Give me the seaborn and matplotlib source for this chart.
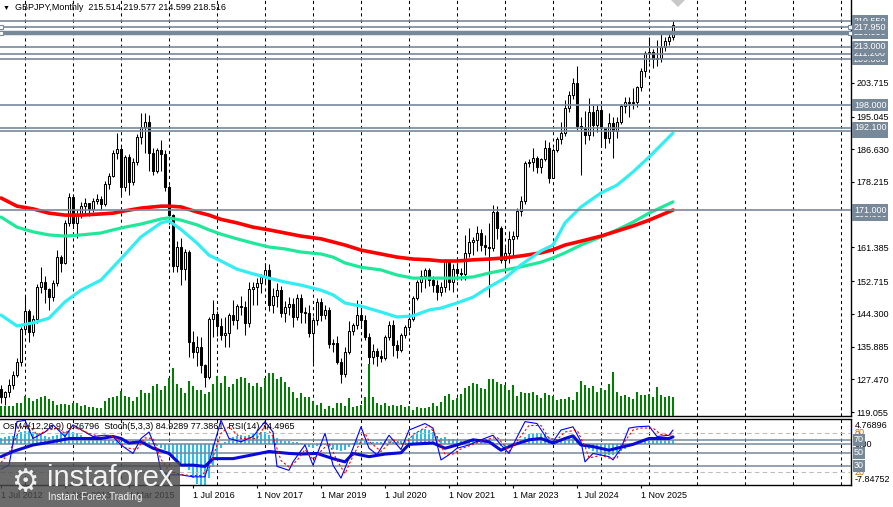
import matplotlib
matplotlib.use("Agg")
import matplotlib.pyplot as plt
from matplotlib.patches import Rectangle, Polygon
import numpy as np
import seaborn as sns

sns.set_theme(style="white")
plt.rcParams['font.family'] = ['Liberation Sans', 'DejaVu Sans']
plt.rcParams['text.color'] = 'black'
plt.rcParams['xtick.color'] = 'black'
plt.rcParams['ytick.color'] = 'black'

# GBPJPY monthly candles, bar 0 = Jul 2012 ... bar 168 = Jul 2026
first_open = 125.0
closes = [
    123.0, 124.2, 126.0, 128.6, 132.0, 140.4, 145.0, 139.6, 143.0, 151.2,
    152.5, 150.8, 148.6, 152.2, 159.0, 157.4, 167.7, 174.4, 167.7, 170.0,
    172.0, 172.8, 171.3, 173.3, 173.8, 172.5, 177.7, 179.7, 185.7, 186.8,
    177.0, 184.6, 178.2, 183.4, 189.8, 192.3, 193.6, 185.7, 181.0, 186.4,
    185.3, 177.0, 169.7, 156.6, 161.5, 155.9, 160.3, 137.0, 134.5, 135.8,
    131.2, 128.0, 143.0, 144.3, 141.2, 139.0, 139.4, 144.0, 142.7, 146.3,
    146.0, 142.0, 150.7, 151.2, 152.2, 153.8, 155.6, 146.6, 149.0, 150.4,
    144.5, 146.2, 146.8, 143.5, 148.3, 144.8, 144.5, 139.4, 142.7, 147.4,
    144.0, 145.3, 136.6, 136.9, 132.0, 128.8, 134.5, 140.0, 141.4, 144.0,
    142.7, 138.4, 133.2, 134.8, 133.5, 133.0, 138.4, 141.4, 136.3, 135.0,
    138.9, 141.0, 143.0, 148.4, 152.5, 154.0, 155.6, 153.0, 151.7, 150.0,
    151.2, 157.8, 152.5, 155.8, 154.8, 154.5, 160.0, 162.8, 163.3, 165.0,
    162.0, 161.5, 161.2, 170.5, 166.4, 158.2, 160.0, 163.6, 164.3, 170.8,
    173.3, 183.2, 183.3, 184.3, 182.0, 184.1, 186.9, 179.2, 186.4, 189.3,
    190.8, 197.2, 200.6, 203.7, 192.6, 192.1, 190.4, 196.2, 192.9, 196.7,
    192.1, 189.5, 193.4, 191.2, 193.6, 197.7, 198.8, 198.5, 198.9, 202.6,
    206.7, 211.4, 211.6, 209.8, 210.1, 212.9, 214.5, 215.514, 218.516]
highs = [
    126.0, 124.5, 127.5, 129.5, 133.0, 141.0, 148.8, 145.5, 144.0, 152.0,
    156.4, 154.0, 151.0, 153.0, 160.6, 159.5, 168.5, 175.3, 175.0, 171.0,
    173.0, 174.0, 172.9, 174.0, 175.0, 174.5, 178.5, 180.5, 186.5, 190.7,
    187.2, 185.2, 185.5, 184.5, 190.5, 195.9, 195.9, 195.5, 187.0, 187.0,
    189.0, 186.5, 177.5, 170.0, 163.0, 163.8, 161.0, 160.8, 140.0, 138.5,
    138.4, 131.5, 143.5, 147.9, 145.0, 143.2, 143.6, 144.5, 148.0, 146.8,
    149.0, 147.5, 152.6, 152.5, 153.5, 154.5, 157.3, 157.0, 151.0, 152.2,
    151.5, 147.5, 148.7, 148.3, 149.5, 149.5, 146.0, 146.6, 143.5, 148.3,
    148.5, 146.5, 146.0, 137.8, 138.5, 133.0, 135.8, 142.5, 142.0, 147.9,
    146.0, 144.0, 139.5, 136.5, 135.5, 135.0, 139.0, 142.5, 142.7, 137.5,
    139.5, 141.5, 143.5, 149.0, 153.0, 155.6, 156.0, 156.0, 154.0, 153.0,
    152.5, 158.3, 158.0, 157.0, 157.5, 156.0, 164.5, 166.5, 164.0, 167.0,
    166.0, 164.5, 167.7, 172.3, 172.0, 167.0, 161.5, 165.5, 165.5, 171.5,
    174.5, 183.5, 184.0, 186.9, 185.0, 184.5, 189.0, 188.5, 187.0, 189.8,
    193.7, 199.3, 201.5, 205.0, 208.0, 195.0, 196.5, 199.7, 198.0, 198.0,
    198.0, 192.0, 195.9, 195.0, 195.0, 198.2, 200.1, 200.0, 202.3, 203.0,
    207.5, 212.0, 215.6, 212.5, 214.7, 216.4, 215.5, 216.8, 219.577]
lows = [
    121.5, 121.0, 123.0, 125.0, 128.0, 131.0, 139.4, 137.2, 138.5, 142.0,
    149.7, 147.0, 145.2, 147.5, 151.6, 155.0, 157.0, 167.0, 167.0, 163.8,
    169.0, 170.0, 169.5, 170.5, 172.5, 171.0, 172.0, 176.5, 179.5, 184.0,
    174.9, 176.0, 174.9, 177.5, 182.5, 188.0, 185.6, 181.0, 180.0, 180.5,
    181.0, 176.0, 167.5, 155.0, 155.0, 151.7, 153.0, 133.3, 133.0, 131.0,
    129.1, 125.6, 127.5, 138.4, 138.5, 137.6, 135.9, 135.9, 141.5, 140.5,
    144.0, 138.9, 141.0, 146.6, 146.5, 149.6, 152.0, 145.0, 144.5, 146.0,
    143.5, 142.3, 144.0, 141.0, 142.8, 142.0, 142.0, 138.4, 131.7, 141.5,
    142.5, 143.0, 135.5, 134.5, 131.5, 126.5, 128.0, 134.0, 139.0, 140.5,
    141.0, 137.5, 131.4, 131.5, 131.0, 132.0, 132.5, 137.5, 133.5, 133.0,
    134.5, 138.0, 140.0, 142.5, 148.0, 150.0, 151.0, 151.5, 150.0, 148.0,
    149.0, 150.0, 150.5, 150.0, 153.0, 153.0, 153.0, 159.0, 159.5, 160.5,
    160.5, 159.5, 148.6, 160.5, 163.5, 157.5, 154.7, 157.5, 159.0, 163.5,
    169.5, 172.5, 182.0, 181.0, 180.5, 180.4, 183.5, 178.0, 179.2, 185.8,
    188.0, 190.0, 196.2, 199.5, 191.5, 180.0, 188.0, 189.0, 190.0, 191.0,
    187.3, 186.9, 188.2, 184.3, 189.5, 193.0, 195.9, 195.0, 197.0, 197.6,
    201.5, 205.3, 209.0, 207.4, 208.0, 209.0, 212.0, 213.5, 214.599]
volumes = [
    10, 10, 10, 10, 13, 13, 20, 18, 15, 17,
    19, 20, 17, 15, 11, 12, 12, 11, 13, 13,
    10, 11, 9, 9, 8, 8, 15, 18, 19, 20,
    25, 20, 19, 15, 19, 26, 23, 23, 30, 32,
    26, 30, 38, 48, 32, 28, 23, 35, 30, 26,
    26, 22, 24, 32, 40, 33, 40, 29, 32, 37,
    39, 38, 33, 30, 33, 29, 38, 43, 43, 37,
    39, 34, 29, 24, 18, 23, 19, 19, 15, 11,
    13, 7, 10, 8, 13, 13, 10, 18, 9, 10,
    11, 19, 52, 19, 13, 11, 13, 10, 11, 10,
    11, 9, 10, 6, 9, 8, 8, 9, 13, 10,
    14, 20, 22, 16, 18, 22, 28, 30, 33, 32,
    28, 27, 37, 37, 34, 32, 31, 26, 31, 20,
    24, 23, 23, 24, 21, 18, 23, 21, 20, 16,
    17, 17, 19, 16, 24, 35, 31, 28, 30, 24,
    28, 26, 32, 44, 24, 20, 21, 19, 17, 24,
    21, 21, 22, 19, 29, 21, 19, 20, 19]

# moving averages (bar index -> price)
ma_idx = [0, 4, 8, 12, 16, 20, 25, 28, 31, 35, 40, 42, 45, 49, 52, 55, 59, 63, 67, 71,
          75, 80, 83, 86, 90, 95, 99, 103, 107, 110, 114, 118, 122, 126, 130, 135, 138, 141,
          145, 150, 154, 158, 162, 168]
ma_red = [174.1, 172.0, 171.3, 170.2, 169.7, 169.7, 170.0, 170.2, 170.8, 171.5,
          172.0, 172.0, 171.8, 170.5, 169.7, 168.6, 167.7, 166.6, 165.9, 165.1,
          164.3, 163.6, 162.8, 162.0, 160.7, 159.7, 158.9, 158.4, 158.2, 157.9,
          157.9, 158.2, 158.4, 158.7, 159.2, 160.0, 160.8, 162.0, 163.0, 164.3,
          165.6, 166.9, 168.4, 171.0]
ma_green = [169.2, 166.6, 165.4, 164.6, 164.3, 164.6, 165.1, 165.9, 166.6, 167.4,
            168.7, 169.0, 168.4, 167.2, 165.9, 164.8, 163.6, 162.5, 161.5, 161.0,
            160.2, 159.7, 158.9, 157.4, 156.3, 155.6, 154.3, 153.5, 153.5, 153.5,
            153.5, 153.8, 154.8, 155.6, 156.4, 157.6, 158.7, 160.0, 162.0, 164.1,
            165.9, 167.9, 170.2, 173.1]
ma_aqua = [144.0, 141.2, 142.0, 143.2, 147.4, 150.4, 153.0, 156.3, 159.6, 164.1,
           167.7, 168.2, 166.0, 162.5, 159.4, 157.9, 155.8, 154.6, 153.5, 152.5,
           151.7, 150.4, 149.2, 147.1, 146.3, 144.8, 143.5, 143.8, 145.3, 145.8,
           147.1, 148.6, 151.2, 153.5, 156.9, 160.5, 162.0, 167.7, 171.8, 175.4,
           177.4, 180.8, 184.6, 190.8]

# OsMA(12,26,9) histogram, one value per bar
osma = [
    1.2, 1.4, 1.5, 1.6, 1.8, 2.2, 2.5, 2.4, 2.2, 2.0,
    1.8, 1.6, 1.4, 1.5, 1.8, 2.0, 2.3, 2.4, 2.2, 2.0,
    1.7, 1.4, 1.2, 1.0, 0.9, 0.8, 0.9, 0.7, 0.6, 0.6,
    0.4, 0.5, 0.4, 0.4, 0.5, 0.6, 0.6, 0.3, 0.1, -0.3,
    -0.8, -1.2, -1.8, -2.6, -3.2, -3.6, -4.0, -5.0, -6.6, -7.6,
    -7.8, -7.8, -6.5, -4.5, -2.5, -0.8, 0.4, 1.0, 1.3, 1.6,
    1.7, 1.6, 1.8, 2.0, 2.2, 2.2, 2.3, 1.8, 1.4, 1.2,
    0.8, 0.6, 0.5, 0.3, 0.3, 0.1, -0.2, -0.5, -0.7, -0.4,
    -0.3, -0.2, -0.6, -0.9, -1.2, -1.4, -1.1, -0.5, 0.2, 0.5,
    0.7, 0.6, 0.4, 0.3, 0.3, 0.4, 0.5, 0.6, 0.4, 0.3,
    0.5, 0.8, 1.2, 1.8, 2.3, 2.7, 2.8, 2.6, 2.2, 1.6,
    1.2, 1.4, 1.0, 0.9, 0.7, 0.5, 0.6, 0.7, 0.6, 0.6,
    0.4, 0.2, 0.0, 0.3, 0.2, -0.4, -0.7, -0.6, -0.3, 0.2,
    0.7, 1.4, 1.9, 2.1, 2.1, 2.0, 1.9, 1.3, 1.1, 1.0,
    0.9, 1.1, 1.2, 1.2, 0.5, 0.0, -0.5, -0.9, -1.4, -1.7,
    -2.1, -2.3, -2.2, -2.2, -1.8, -1.3, -0.9, -0.6, -0.2, 0.2,
    0.7, 1.0, 1.0, 0.9, 0.8, 0.9, 0.8, 0.8, 0.77]

# Stochastic(5,3,3) main and signal, RSI(14)
stoch_idx = [0, 2, 4, 6, 8, 11, 13, 16, 18, 21, 23, 26, 28, 30, 33, 35, 37, 39, 40, 42,
             45, 48, 51, 53, 55, 57, 60, 63, 66, 68, 69, 72, 73, 76, 78, 81, 83, 85, 88, 90,
             92, 94, 97, 100, 102, 106, 108, 110, 112, 114, 117, 120, 123, 125, 127, 128,
             131, 134, 137, 138, 140, 143, 145, 146, 148, 152, 153, 155, 157, 159, 162,
             164, 167, 168]
stoch_main = [25, 31, 98, 100, 72, 82, 93, 75, 93, 82, 75, 77, 75, 62, 49, 72, 82, 52, 21, 16,
              16, 13, 13, 57, 100, 72, 67, 75, 98, 82, 29, 23, 36, 62, 31, 80, 31, 11, 57, 90,
              57, 47, 77, 55, 85, 95, 88, 39, 47, 57, 62, 70, 77, 62, 49, 62, 98, 95, 67, 67,
              85, 90, 67, 36, 49, 44, 39, 57, 88, 90, 91, 75, 77, 85]
signal_idx = [0, 2, 5, 7, 9, 12, 14, 16, 18, 22, 24, 27, 29, 31, 34, 36, 38, 40, 42, 44,
              47, 50, 52, 55, 57, 60, 64, 66, 68, 70, 72, 74, 76, 78, 82, 84, 86, 88, 91, 92,
              95, 98, 101, 103, 107, 109, 111, 113, 115, 118, 121, 124, 126, 127, 129, 132,
              135, 137, 139, 141, 144, 146, 147, 150, 152, 154, 156, 158, 160, 163, 165, 168]
stoch_signal = [35, 50, 90, 92, 78, 85, 88, 80, 90, 80, 76, 77, 72, 58, 55, 73, 72, 40, 22, 18,
                15, 15, 25, 80, 90, 72, 72, 92, 75, 38, 28, 38, 55, 40, 65, 38, 18, 45, 80, 68,
                52, 70, 62, 78, 92, 75, 48, 48, 56, 63, 70, 74, 60, 52, 68, 92, 92, 72, 70, 82,
                85, 60, 42, 46, 42, 42, 68, 85, 88, 88, 78, 77.4]
rsi_idx = [0, 3, 8, 12, 17, 22, 25, 28, 30, 32, 35, 38, 42, 45, 48, 51, 53, 58, 63, 67,
           72, 75, 79, 83, 86, 88, 92, 96, 100, 102, 108, 111, 114, 118, 122, 125, 128, 132,
           135, 138, 141, 143, 145, 148, 152, 154, 158, 162, 167, 168]
rsi_vals = [44, 52, 62, 66, 72, 72, 72, 75, 72, 65, 67, 57, 49, 31, 31, 29, 41, 41, 47, 52,
            49, 48, 49, 41, 36, 49, 44, 48, 50, 63, 65, 57, 62, 70, 67, 54, 62, 70, 72, 65,
            72, 76, 62, 59.5, 54, 57, 63, 72, 72, 74.5]

date_idx = [0, 16, 32, 48, 64, 80, 96, 112, 128, 144, 160]
date_labels = ["1 Jul 2012", "1 Nov 2013", "1 Mar 2015", "1 Jul 2016", "1 Nov 2017",
               "1 Mar 2019", "1 Jul 2020", "1 Nov 2021", "1 Mar 2023", "1 Jul 2024",
               "1 Nov 2025"]
price_ticks = [119.055, 127.470, 135.885, 144.300, 152.715, 161.385, 178.215, 186.630,
               195.045, 203.715]
# horizontal levels, in drawing order (later ones cover earlier labels)
level_prices = [219.55, 216.55, 217.95, 209.8, 211.2, 213.0, 198.0, 191.2, 192.1, 169.8, 171.0]
level_text = ["219.550", "216.550", "217.950", "209.800", "211.200", "213.000", "198.000",
              "191.200", "192.100", "169.800", "171.000"]
thick_level = 216.55
hidden_level = 169.8

header = "GBPJPY,Monthly  215.514 219.577 214.599 218.516"
sub_header = "OsMA(12,26,9) 0.76796  Stoch(5,3,3) 84.9289 77.3861  RSI(14) 74.4965"

# ---------------------------------------------------------------
W, H = 893, 507
fig = plt.figure(figsize=(W / 100, H / 100), dpi=100)
fig.patch.set_facecolor('white')


def px_box(x0, y0, x1, y1):
    return [x0 / W, 1 - y1 / H, (x1 - x0) / W, (y1 - y0) / H]


ax = fig.add_axes(px_box(0, 0, 851, 416))
ax_low = fig.add_axes(px_box(0, 419, 851, 485), sharex=ax)
ax_vol = ax.twinx()
ax_osc = ax_low.twinx()

n = len(closes)
idx = np.arange(n)
c = np.array(closes)
o = np.array([first_open] + closes[:-1])
hi = np.maximum(np.array(highs), np.maximum(o, c))
lo = np.minimum(np.array(lows), np.minimum(o, c))
up = c >= o

slate = '#778899'
grid_pos = list(range(6, 212, 12))

# main panel
for g in grid_pos:
    ax.axvline(g, color='black', lw=0.75, ls=(0, (3, 3)), zorder=1)
ax.vlines(idx, lo, hi, color='black', lw=0.75, zorder=2)
ax.bar(idx, np.maximum(np.abs(c - o), 0.15), bottom=np.minimum(o, c), width=0.55,
       color=np.where(up, 'white', 'black'), edgecolor='black', linewidth=0.75, zorder=3)

sns.lineplot(x=ma_idx, y=ma_green, ax=ax, color='#1FE89B', linewidth=2.3, zorder=4)
sns.lineplot(x=ma_idx, y=ma_red, ax=ax, color='#FF0000', linewidth=2.6, zorder=4)
sns.lineplot(x=ma_idx, y=ma_aqua, ax=ax, color='#30EEF2', linewidth=2.3, zorder=4)

ytr = ax.get_yaxis_transform()
for k, (p, t) in enumerate(zip(level_prices, level_text)):
    if p != hidden_level:
        ax.axhline(p, color=slate, lw=3.2 if p == thick_level else 1.2, zorder=5)
    ax.text(1 + 3 / 851, p, t, transform=ytr, ha='left', va='center', fontsize=6.5,
            color='white', clip_on=False, zorder=10 + k,
            bbox=dict(boxstyle='square,pad=0.18', fc=slate, ec='none'))
for p in (217.95, 216.55):
    ax.plot([0.1, 212.2], [p, p], ls='none', marker='s', ms=3.2, mfc='white', mec=slate,
            mew=0.8, zorder=6, clip_on=False)

ax.text(15 / 851, 1 - 8 / 416, header, transform=ax.transAxes, fontsize=6.5, va='center',
        ha='left', zorder=20)
ax.text(3 / 851, 1 - 8 / 416, "\u25bc", transform=ax.transAxes, fontsize=5, va='center',
        ha='left', zorder=20)

ax.set_xlim(-0.25, 212.5)
ax.set_ylim(118.05, 225.0)
ax.yaxis.tick_right()
ax.set_yticks(price_ticks)
ax.set_yticklabels([f"{v:.3f}" for v in price_ticks])
ax.tick_params(axis='y', right=True, left=False, length=2.5, width=0.8, pad=1.5,
               labelsize=6.5, direction='out')
ax.tick_params(axis='x', bottom=False, labelbottom=False)
ax.set_xlabel('')
ax.set_ylabel('')

# tick volumes as green sticks from the panel floor
ax_vol.vlines(idx, 0, volumes, color='#008000', lw=1.3, antialiased=False)
ax_vol.set_ylim(0, 416)
ax_vol.set_axis_off()

for s in ('left', 'top'):
    ax.spines[s].set_visible(False)
for s in ('right', 'bottom'):
    ax.spines[s].set_color('black')
    ax.spines[s].set_linewidth(1.0)

# lower panel: OsMA histogram + Stoch + RSI
for g in grid_pos:
    ax_low.axvline(g, color='black', lw=0.75, ls=(0, (3, 3)), zorder=1)
ax_low.bar(idx, osma, width=0.6, color='#27BDF0', linewidth=0, zorder=2)
ax_low.axhline(0, color=slate, lw=1.1, zorder=3)
ax_low.set_ylim(-7.84752, 4.76896)
ax_low.set_yticks([])
ax_low.set_xticks(date_idx)
ax_low.set_xticklabels(date_labels, ha='left')
ax_low.tick_params(axis='x', bottom=True, length=2.5, width=0.8, pad=1.5, labelsize=6.5,
                   direction='out')
ax_low.spines['left'].set_visible(False)
for s in ('right', 'bottom', 'top'):
    ax_low.spines[s].set_color('black')
    ax_low.spines[s].set_linewidth(1.0)

for lv in (70, 50, 30):
    ax_osc.axhline(lv, color=slate, lw=1.1, zorder=1)
for lv in (80, 20):
    ax_osc.axhline(lv, color='#BDBDBD', lw=0.8, ls=(0, (4, 3)), zorder=1)
sns.lineplot(x=rsi_idx, y=rsi_vals, ax=ax_osc, color='#0B0BD6', linewidth=2.2, zorder=3)
sns.lineplot(x=stoch_idx, y=stoch_main, ax=ax_osc, color='#0000FF', linewidth=0.8, zorder=4)
sns.lineplot(x=signal_idx, y=stoch_signal, ax=ax_osc, color='#FF0000', linewidth=0.8,
             linestyle=(0, (2, 2)), zorder=4)
ax_osc.set_ylim(0.4, 102)
ax_osc.set_yticks([])
ax_osc.set_ylabel('')
for s in ax_osc.spines.values():
    s.set_visible(False)

otr = ax_osc.get_yaxis_transform()
ax_osc.text(3 / 851, 0.885, sub_header, transform=ax_osc.transAxes, fontsize=6.5,
            va='center', ha='left', zorder=20)
for val, t, col in [(92.7, "4.76896", 'black'), (80.9, "80", '#C86400'), (63, "0.00", 'black'),
                    (19.6, "20", '#C86400'), (8.9, "-7.84752", 'black')]:
    ax_osc.text(1 + 4 / 851, val, t, transform=otr, ha='left', va='center', fontsize=6.5,
                color=col, clip_on=False, zorder=10)
for val in (70, 50, 30):
    ax_osc.text(1 + 3 / 851, val, str(val), transform=otr, ha='left', va='center',
                fontsize=6.5, color='white', clip_on=False, zorder=12,
                bbox=dict(boxstyle='square,pad=0.15', fc=slate, ec='none'))

# chart shift marker
fig.patches.append(Polygon([(671 / W, 1.0), (685 / W, 1.0), (678 / W, 1 - 7 / H)],
                           closed=True, transform=fig.transFigure, fc='#C8C8C8',
                           ec='none', zorder=5))

# watermark
fig.patches.append(Rectangle((0, 0), 180 / W, 45 / H, transform=fig.transFigure,
                             fc='#4a4a4a', ec='none', alpha=0.82, zorder=10))
fig.text(25 / W, 1 - 483 / H, "\u2699", color='white', fontsize=22, ha='center',
         va='center', zorder=11, alpha=0.9)
fig.text(47 / W, 1 - 478 / H, "instaforex", color='white', fontsize=21, ha='left',
         va='center', zorder=11, alpha=0.92)
fig.text(48 / W, 1 - 497 / H, "Instant Forex Trading", color='white', fontsize=7.2,
         ha='left', va='center', zorder=11, alpha=0.92)

fig.savefig("out.png", dpi=100)
